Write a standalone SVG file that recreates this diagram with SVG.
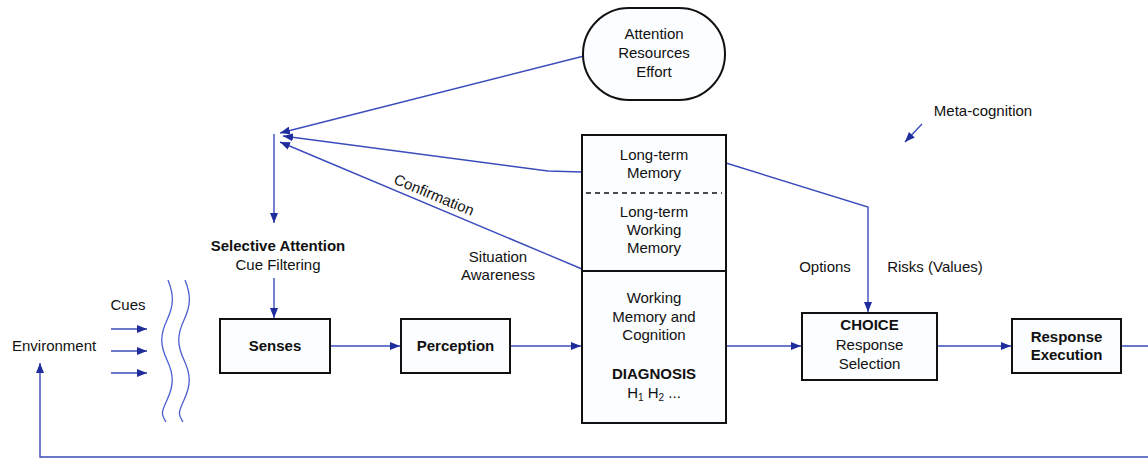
<svg xmlns="http://www.w3.org/2000/svg" width="1148" height="459" viewBox="0 0 1148 459">
  <defs>
    <marker id="arrow" viewBox="0 0 10 8" refX="10" refY="4" markerWidth="10" markerHeight="8" markerUnits="userSpaceOnUse" orient="auto">
      <path d="M0,0 L10,4 L0,8 z" fill="#1f2c9c"/>
    </marker>
    <style>
      .box { fill: #fbfdfe; stroke: #111; stroke-width: 2; }
      .link { fill: none; stroke: #3a4cbc; stroke-width: 1.4; }
      .t { font-family: "Liberation Sans", Arial, sans-serif; font-size: 15px; fill: #111; text-anchor: middle; }
      .b { font-weight: bold; }
      .l { text-anchor: start; }
      .wave { fill: none; stroke: #4a5ed0; stroke-width: 1.3; }
    </style>
  </defs>

  <rect width="1148" height="459" fill="#ffffff"/>

  <!-- connectors -->
  <g id="connectors">
    <path class="link" d="M584,56 L280,133" marker-end="url(#arrow)"/>
    <path class="link" d="M582,172 L548,171 L283,136" marker-end="url(#arrow)"/>
    <path class="link" d="M582,269 L280,142" marker-end="url(#arrow)"/>
    <path class="link" d="M274,134 V223" marker-end="url(#arrow)"/>
    <path class="link" d="M274,278 V318" marker-end="url(#arrow)"/>
    <path class="link" d="M330,346 H400" marker-end="url(#arrow)"/>
    <path class="link" d="M510,346 H581" marker-end="url(#arrow)"/>
    <path class="link" d="M726,346 H801" marker-end="url(#arrow)"/>
    <path class="link" d="M726,163 L868,207 V312" marker-end="url(#arrow)"/>
    <path class="link" d="M937,346 H1011" marker-end="url(#arrow)"/>
    <path class="link" d="M1121,346 H1170 V457 H40 V363" marker-end="url(#arrow)"/>
    <path class="link" d="M922,124 L905,142" marker-end="url(#arrow)"/>
    <path class="link" d="M111,329 H147" marker-end="url(#arrow)"/>
    <path class="link" d="M111,351 H147" marker-end="url(#arrow)"/>
    <path class="link" d="M111,373 H147" marker-end="url(#arrow)"/>
  </g>

  <!-- sensory boundary -->
  <g id="boundary">
    <path class="wave" d="M168,280 C174,295 174,305 167,320 S160,345 167,360 S174,385 167,400 S162,415 166,422"/>
    <path class="wave" d="M185,280 C191,295 191,305 184,320 S177,345 184,360 S191,385 184,400 S179,415 183,422"/>
  </g>

  <g id="attention-resources">
    <rect class="box" x="583" y="8" width="142" height="92" rx="46" ry="46" stroke-width="2"/>
    <text class="t" x="654" y="39">Attention</text>
    <text class="t" x="654" y="58">Resources</text>
    <text class="t" x="654" y="77">Effort</text>
  </g>

  <g id="memory">
    <rect class="box" x="582" y="135" width="144" height="288"/>
    <line x1="586" y1="193" x2="722" y2="193" stroke="#111" stroke-width="1.5" stroke-dasharray="5,4"/>
    <line x1="582" y1="271" x2="726" y2="271" stroke="#111" stroke-width="2"/>
    <text class="t" x="654" y="160">Long-term</text>
    <text class="t" x="654" y="178">Memory</text>
    <text class="t" x="654" y="217">Long-term</text>
    <text class="t" x="654" y="235">Working</text>
    <text class="t" x="654" y="253">Memory</text>
    <text class="t" x="654" y="303">Working</text>
    <text class="t" x="654" y="322">Memory and</text>
    <text class="t" x="654" y="340">Cognition</text>
    <text class="t b" x="654" y="379">DIAGNOSIS</text>
    <text class="t" x="654" y="398">H<tspan font-size="10" dy="3">1</tspan><tspan dy="-3"> H</tspan><tspan font-size="10" dy="3">2</tspan><tspan dy="-3"> ...</tspan></text>
  </g>

  <g id="selective-attention">
    <text class="t b" x="278" y="251">Selective Attention</text>
    <text class="t" x="278" y="270">Cue Filtering</text>
  </g>

  <g id="senses">
    <rect class="box" x="220" y="319" width="110" height="54"/>
    <text class="t b" x="275" y="351">Senses</text>
  </g>

  <g id="perception">
    <rect class="box" x="401" y="319" width="109" height="54"/>
    <text class="t b" x="455.5" y="351">Perception</text>
  </g>

  <g id="choice">
    <rect class="box" x="802" y="313" width="135" height="67"/>
    <text class="t b" x="869.5" y="330">CHOICE</text>
    <text class="t" x="869.5" y="350">Response</text>
    <text class="t" x="869.5" y="369">Selection</text>
  </g>

  <g id="response-execution">
    <rect class="box" x="1012" y="319" width="109" height="54"/>
    <text class="t b" x="1066.5" y="342">Response</text>
    <text class="t b" x="1066.5" y="360">Execution</text>
  </g>

  <g id="environment">
    <text class="t l" x="12" y="351">Environment</text>
    <text class="t" x="128" y="310">Cues</text>
  </g>

  <g id="labels">
    <text class="t" x="434" y="200" transform="rotate(22.5 434 195)">Confirmation</text>
    <text class="t" x="498" y="262">Situation</text>
    <text class="t" x="498" y="280">Awareness</text>
    <text class="t" x="825" y="272">Options</text>
    <text class="t" x="935" y="272">Risks (Values)</text>
    <text class="t" x="983" y="116">Meta-cognition</text>
  </g>
</svg>
